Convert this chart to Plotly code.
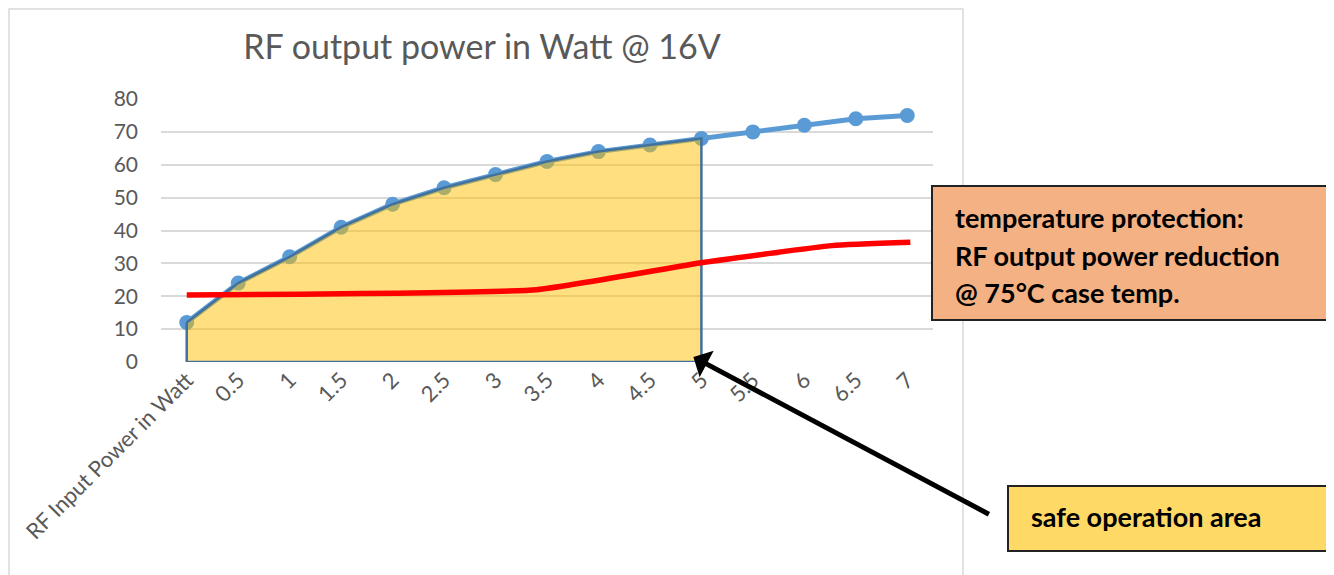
import plotly.graph_objects as go

# ---- data ----
x_vals = [0, 0.5, 1, 1.5, 2, 2.5, 3, 3.5, 4, 4.5, 5, 5.5, 6, 6.5, 7]
x_labels = ["RF Input Power in Watt", "0.5", "1", "1.5", "2", "2.5", "3", "3.5",
            "4", "4.5", "5", "5.5", "6", "6.5", "7"]
rf_output = [12, 24, 32, 41, 48, 53, 57, 61, 64, 66, 68, 70, 72, 74, 75]
safe_limit = 5
temp_x = [0, 3.4, 5, 6.27, 7.03]
temp_y = [20.4, 22.0, 30.2, 35.4, 36.4]
y_ticks = [0, 10, 20, 30, 40, 50, 60, 70, 80]

title_text = "RF output power in Watt @ 16V"
temp_lines = ["temperature protection:", "RF output power reduction", "@ 75°C case temp."]
safe_text = "safe operation area"

# ---- layout geometry (page pixels; the page body has an 8px margin) ----
W, H = 1334, 575
OFF = 8
L, R, T, B = 161, 933, 99, 362


def px(x):
    return (x - L) / (R - L)


def py(y):
    return (B - y) / (B - T)


area_x = [x for x in x_vals if x <= safe_limit]
area_y = rf_output[:len(area_x)]
poly_x = area_x + [safe_limit, x_vals[0], x_vals[0]]
poly_y = area_y + [0, 0, area_y[0]]

fig = go.Figure()
fig.add_trace(go.Scatter(
    x=x_vals, y=rf_output, mode="lines+markers",
    line=dict(color="#5B9BD5", width=5),
    marker=dict(color="#5B9BD5", size=15),
    showlegend=False, hoverinfo="skip"))
fig.add_trace(go.Scatter(
    x=poly_x, y=poly_y, mode="lines", fill="toself",
    fillcolor="rgba(255,192,0,0.5)",
    line=dict(color="#41719C", width=2.5),
    showlegend=False, hoverinfo="skip"))
fig.add_trace(go.Scatter(
    x=temp_x, y=temp_y, mode="lines",
    line=dict(color="#FF0000", width=5.5, shape="spline", smoothing=0.4),
    showlegend=False, hoverinfo="skip"))

shapes = [
    dict(type="rect", xref="paper", yref="paper",
         x0=px(OFF + 1), x1=px(963), y0=py(580), y1=py(OFF + 1),
         line=dict(color="#D9D9D9", width=1.5), fillcolor="rgba(0,0,0,0)", layer="below"),
    dict(type="rect", xref="paper", yref="paper",
         x0=px(932), x1=px(1329), y0=py(320), y1=py(186),
         line=dict(color="#222222", width=2), fillcolor="#F4B183"),
    dict(type="rect", xref="paper", yref="paper",
         x0=px(1008), x1=px(1333), y0=py(551), y1=py(486),
         line=dict(color="#222222", width=2), fillcolor="#FFD966"),
]

annotations = [
    dict(x=safe_limit, y=0, xref="x", yref="y", xshift=-8, yshift=5,
         ax=990 - 693, ay=515 - 357, text="",
         showarrow=True, arrowhead=1, arrowwidth=5, arrowsize=1.0,
         arrowcolor="#000000", standoff=0),
]
for i, line in enumerate(temp_lines):
    annotations.append(dict(
        x=px(953), y=py([217, 255, 292][i]), xref="paper", yref="paper",
        xanchor="left", yanchor="middle", showarrow=False,
        text="<b>%s</b>" % line,
        font=dict(family="Lato", size=27, color="#000000")))
annotations.append(dict(
    x=px(1029), y=py(516), xref="paper", yref="paper",
    xanchor="left", yanchor="middle", showarrow=False,
    text="<b>%s</b>" % safe_text,
    font=dict(family="Lato", size=27, color="#000000")))

fig.update_layout(
    width=W - OFF, height=H - OFF,
    margin=dict(l=L - OFF, r=W - R, t=T - OFF, b=H - B, autoexpand=False),
    paper_bgcolor="white", plot_bgcolor="white",
    title=dict(text=title_text, xref="container", x=(482 - OFF) / (W - OFF),
               xanchor="center", yref="container",
               y=1 - (47 - OFF) / (H - OFF), yanchor="middle",
               font=dict(family="Lato", size=34, color="#595959")),
    xaxis=dict(range=[-0.25, 7.25], tickvals=x_vals, ticktext=x_labels,
               tickangle=-45, showgrid=False, zeroline=False, showline=False,
               ticks="", tickfont=dict(family="Lato", size=22, color="#595959")),
    yaxis=dict(range=[0, 80], tickvals=y_ticks, showgrid=True,
               gridcolor="#D9D9D9", gridwidth=1.5, zeroline=False, showline=False,
               ticks="", ticklabelstandoff=22,
               tickfont=dict(family="Lato", size=21, color="#595959")),
    shapes=shapes, annotations=annotations,
)

fig.write_html("out.html")
